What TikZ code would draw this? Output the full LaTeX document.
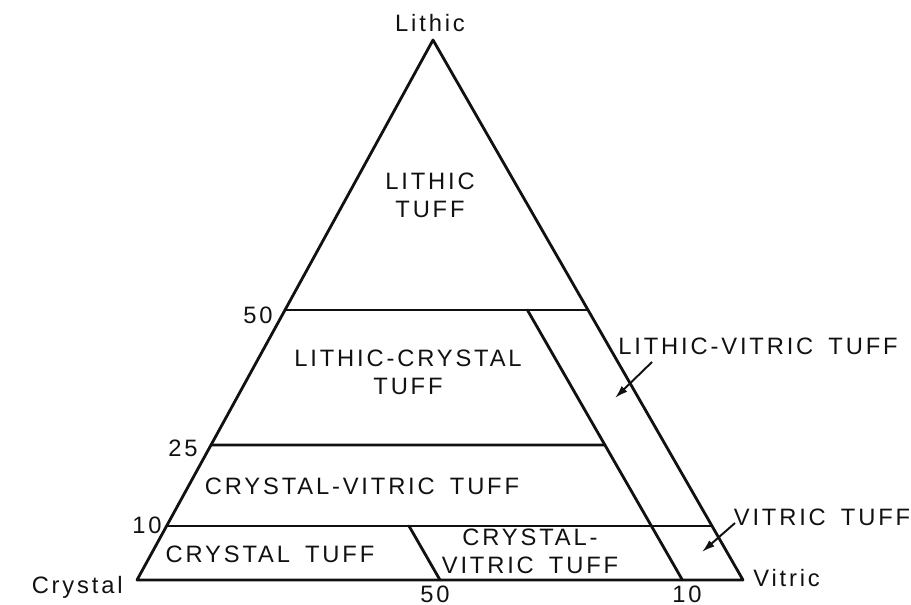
\documentclass[tikz,border=0pt]{standalone}
\usepackage{fontspec}
\usepackage{tikz}
\usetikzlibrary{arrows.meta,calc}
\newfontfamily\leroyfont{Liberation Sans}[LetterSpace=12,WordSpace=1.6]
\definecolor{inkblk}{HTML}{111111}
\begin{document}
\begin{tikzpicture}[x=1cm,y=1cm,
  edge/.style={draw=inkblk,line width=1.6pt,line join=round,line cap=round},
  tag/.style={font=\leroyfont\fontsize{13.5}{16}\selectfont,text=inkblk,align=center,inner sep=0pt},
  corner/.style={font=\leroyfont\fontsize{13.5}{16}\selectfont,text=inkblk,inner sep=0pt},
  pct/.style={font=\leroyfont\fontsize{13.5}{16}\selectfont,text=inkblk,inner sep=0pt},
  pointer/.style={-{Latex[length=2.6mm,width=1.6mm]},draw=inkblk,line width=1.1pt}]
\useasboundingbox (0,0) rectangle (18.22,12.10);
\coordinate (C) at (2.74,0.50);
\coordinate (V) at (14.86,0.50);
\coordinate (L) at (8.66,11.30);
\coordinate (l50a) at (barycentric cs:C=0.5,L=0.5);
\coordinate (l50b) at (barycentric cs:V=0.5,L=0.5);
\coordinate (l25a) at (barycentric cs:C=0.75,L=0.25);
\coordinate (l25b) at (barycentric cs:C=0.1,V=0.65,L=0.25);
\coordinate (l10a) at (barycentric cs:C=0.9,L=0.1);
\coordinate (l10b) at (barycentric cs:V=0.9,L=0.1);
\coordinate (c10top) at (barycentric cs:C=0.1,V=0.4,L=0.5);
\coordinate (c10bot) at (barycentric cs:C=0.1,V=0.9);
\coordinate (c50top) at (barycentric cs:C=0.5,V=0.4,L=0.1);
\coordinate (c50bot) at (barycentric cs:C=0.5,V=0.5);
\draw[edge] (C) -- (V) -- (L) -- cycle;
\draw[edge] (l50a) -- (l50b);
\draw[edge] (l25a) -- (l25b);
\draw[edge] (l10a) -- (l10b);
\draw[edge] (c10top) -- (c10bot);
\draw[edge] (c50top) -- (c50bot);
\node[corner,anchor=base] (lithic) at (8.60,11.46) {Lithic};
\node[corner,anchor=base east] (crystal) at (2.46,0.22) {Crystal};
\node[corner,anchor=base west] (vitric) at (15.06,0.36) {Vitric};
\node[pct] (p50l) at (5.16,5.80) {50};
\node[pct] (p25l) at (3.66,3.14) {25};
\node[pct] (p10l) at (2.94,1.60) {10};
\node[pct] (p50b) at (8.70,0.22) {50};
\node[pct] (p10b) at (13.74,0.22) {10};
\node[tag] (lt) at (8.60,8.20) {LITHIC\\TUFF};
\node[tag] (lct) at (8.16,4.66) {LITHIC-CRYSTAL\\TUFF};
\node[tag] (cvt) at (7.24,2.38) {CRYSTAL-VITRIC TUFF};
\node[tag] (ct) at (5.40,1.02) {CRYSTAL TUFF};
\node[tag] (cvt2) at (10.60,1.08) {CRYSTAL-\\VITRIC TUFF};
\node[tag] (lvt) at (15.16,5.18) {LITHIC-VITRIC TUFF};
\node[tag] (vt) at (16.44,1.76) {VITRIC TUFF};
\coordinate (lvttail) at (13.04,4.86);
\coordinate (lvthead) at (12.30,4.14);
\coordinate (vttail) at (14.70,1.64);
\coordinate (vthead) at (14.04,1.06);
\draw[pointer] (lvttail) -- (lvthead);
\draw[pointer] (vttail) -- (vthead);
\end{tikzpicture}
\end{document}
